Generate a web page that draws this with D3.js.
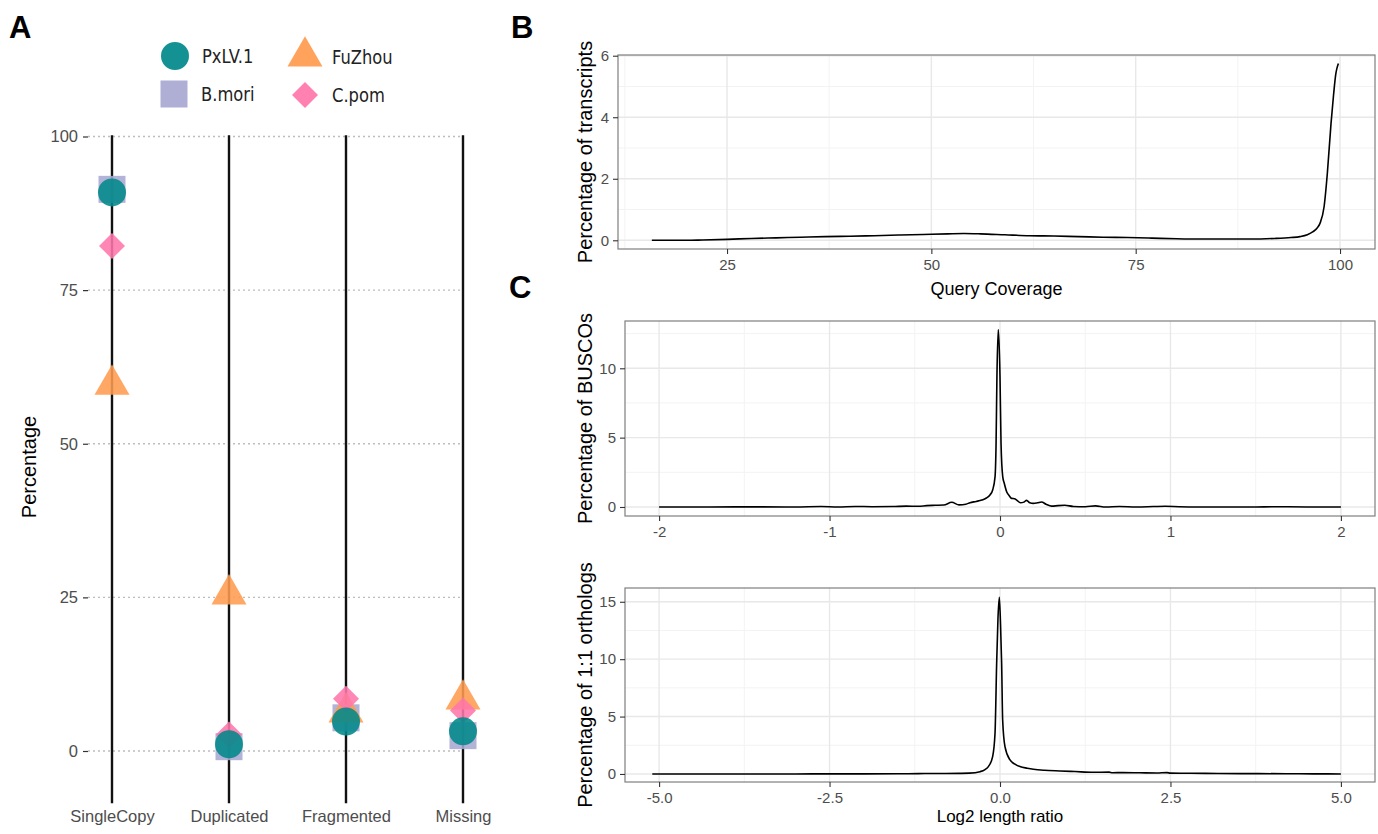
<!DOCTYPE html>
<html><head><meta charset="utf-8">
<script src="https://cdn.jsdelivr.net/npm/d3@7"></script>
<style>html,body{margin:0;padding:0;background:#fff;} svg{display:block;}</style>
</head><body>
<svg id="chart" width="1378" height="834"></svg>
<script>
// ---------- Panel A data ----------
const categories = ["SingleCopy", "Duplicated", "Fragmented", "Missing"];
const species = ["PxLV.1", "B.mori", "FuZhou", "C.pom"];
const pxlvValues   = [90.9, 1.1, 4.8, 3.2];
const bmoriValues  = [91.4, 0.7, 5.4, 2.5];
const fuzhouValues = [59.6, 25.5, 6.3, 8.4];
const cpomValues   = [82.2, 2.7, 8.5, 6.6];
const aTicks = [0, 25, 50, 75, 100];
const aRange = [-8.5, 100.2];

// ---------- Panel B data (Query Coverage density) ----------
const bTicksX = [25, 50, 75, 100];
const bTicksY = [0, 2, 4, 6];
const coverageX = [15.8, 18, 20, 22, 25, 28, 31, 34, 37, 40, 43, 46, 49, 52, 54, 56, 59, 62, 65, 68, 71, 74, 77, 80, 83, 86, 89, 92, 94, 95.1, 96, 96.7, 97.2, 97.55, 98.05, 98.45, 98.9, 99.2, 99.5, 99.65, 99.8];
const coverageY = [0.0, 0.0, 0.0, 0.01, 0.03, 0.06, 0.08, 0.1, 0.12, 0.13, 0.15, 0.17, 0.19, 0.21, 0.22, 0.21, 0.18, 0.15, 0.14, 0.12, 0.1, 0.09, 0.07, 0.05, 0.04, 0.04, 0.04, 0.06, 0.09, 0.12, 0.18, 0.28, 0.4, 0.55, 1.09, 2.18, 3.8, 4.7, 5.43, 5.62, 5.75];

// ---------- Panel C (top) data: BUSCO log2 length ratio ----------
const c1TicksX = [-2, -1, 0, 1, 2];
const c1TicksY = [0, 5, 10];
const buscoX = [-2.0, -1.7, -1.4, -1.2, -1.05, -0.95, -0.85, -0.75, -0.63, -0.55, -0.48, -0.43, -0.38, -0.33, -0.283, -0.24, -0.2, -0.176, -0.14, -0.107, -0.08, -0.059, -0.043, -0.029, -0.023, -0.018, -0.01, 0.0, 0.006, 0.016, 0.025, 0.039, 0.055, 0.068, 0.085, 0.098, 0.12, 0.14, 0.156, 0.175, 0.195, 0.22, 0.244, 0.27, 0.303, 0.34, 0.38, 0.43, 0.5, 0.56, 0.62, 0.7, 0.8, 0.9, 0.97, 1.05, 1.15, 1.3, 1.5, 1.6, 1.8, 2.0];
const buscoY = [0.0, 0.0, 0.01, 0.0, 0.03, 0.0, 0.04, 0.02, 0.03, 0.06, 0.05, 0.1, 0.12, 0.14, 0.34, 0.15, 0.2, 0.31, 0.4, 0.5, 0.65, 0.87, 1.23, 2.19, 4.6, 9.4, 12.8, 9.4, 4.6, 2.19, 1.71, 1.1, 0.8, 0.62, 0.6, 0.5, 0.3, 0.35, 0.48, 0.3, 0.26, 0.3, 0.36, 0.2, 0.06, 0.1, 0.12, 0.04, 0.02, 0.08, 0.0, 0.03, 0.0, 0.03, 0.05, 0.02, 0.0, 0.0, 0.0, 0.02, 0.0, 0.0];

// ---------- Panel C (bottom) data: 1:1 orthologs log2 length ratio ----------
const c2TicksX = [-5, -2.5, 0, 2.5, 5];
const c2TicksY = [0, 5, 10, 15];
const orthoX = [-5.1, -4.5, -4.0, -3.5, -3.0, -2.5, -2.0, -1.5, -1.2, -1.0, -0.8, -0.6, -0.45, -0.293, -0.22, -0.171, -0.108, -0.073, -0.049, -0.03, -0.01, 0.008, 0.024, 0.039, 0.073, 0.147, 0.22, 0.293, 0.4, 0.49, 0.65, 0.88, 1.1, 1.37, 1.6, 1.65, 1.8, 2.05, 2.3, 2.45, 2.5, 2.8, 3.2, 3.75, 4.2, 4.6, 5.0];
const orthoY = [0.0, 0.0, 0.0, 0.0, 0.0, 0.01, 0.01, 0.02, 0.03, 0.04, 0.04, 0.05, 0.07, 0.2, 0.38, 0.64, 1.51, 3.54, 9.64, 13.5, 15.4, 13.0, 9.64, 4.7, 2.38, 1.22, 0.85, 0.64, 0.5, 0.41, 0.32, 0.26, 0.21, 0.15, 0.16, 0.11, 0.12, 0.1, 0.08, 0.12, 0.07, 0.06, 0.04, 0.03, 0.02, 0.01, 0.0];

// ---------- styles ----------
const FONT = "'Liberation Sans', Arial, Helvetica, sans-serif";
const LEGEND_FONT = "'DejaVu Sans', Verdana, sans-serif";
const colors = {"PxLV.1": "#00898A", "B.mori": "#A8A8D2", "FuZhou": "#FF9B4E", "C.pom": "#FF76AB"};
const symbolSpec = {
  "PxLV.1": {type: d3.symbolCircle, size: 616, rot: 0},
  "B.mori": {type: d3.symbolSquare, size: 729, rot: 0},
  "FuZhou": {type: d3.symbolTriangle, size: 530, rot: 0},
  "C.pom":  {type: d3.symbolSquare, size: 338, rot: 45}
};
const valuesBySpecies = {"PxLV.1": pxlvValues, "B.mori": bmoriValues, "FuZhou": fuzhouValues, "C.pom": cpomValues};

const svg = d3.select("#chart");

// ---------- Panel letters ----------
svg.append("text").attr("x", 9).attr("y", 38).text("A")
  .attr("font-family", FONT).attr("font-weight", "bold").attr("font-size", 31);
svg.append("text").attr("x", 511).attr("y", 38).text("B")
  .attr("font-family", FONT).attr("font-weight", "bold").attr("font-size", 31);
svg.append("text").attr("x", 509).attr("y", 298).text("C")
  .attr("font-family", FONT).attr("font-weight", "bold").attr("font-size", 31);

// ---------- Panel A ----------
const yA = d3.scaleLinear().domain([0, 100]).range([751, 136.5]);
const xA = d3.scalePoint().domain(categories).range([112, 463]);
const gA = svg.append("g");

gA.selectAll("line.gridA").data(aTicks).join("line").attr("class", "gridA")
  .attr("x1", 88).attr("x2", 462)
  .attr("y1", d => yA(d)).attr("y2", d => yA(d))
  .attr("stroke", "#bdbdbd").attr("stroke-width", 1.3).attr("stroke-dasharray", "2,3");

gA.append("g").attr("transform", "translate(88,0)")
  .call(d3.axisLeft(yA).tickValues(aTicks).tickSize(5).tickPadding(5))
  .call(g => {
    g.select(".domain").remove();
    g.selectAll("line").attr("stroke", "#333").attr("stroke-width", 1.2);
    g.selectAll("text").attr("font-family", FONT).attr("font-size", 16.5).attr("fill", "#4d4d4d");
  });

gA.selectAll("line.stem").data(categories).join("line").attr("class", "stem")
  .attr("x1", d => xA(d)).attr("x2", d => xA(d))
  .attr("y1", yA(aRange[1])).attr("y2", yA(aRange[0]))
  .attr("stroke", "#111").attr("stroke-width", 2.4);

gA.append("g").attr("transform", "translate(0,803)")
  .call(d3.axisBottom(xA).tickSize(0).tickPadding(7.5))
  .call(g => {
    g.select(".domain").remove();
    g.selectAll("text").attr("font-family", FONT).attr("font-size", 16.5).attr("fill", "#4d4d4d");
  });

gA.append("text").attr("transform", "translate(36,467) rotate(-90)")
  .attr("text-anchor", "middle").attr("font-family", FONT).attr("font-size", 20)
  .attr("fill", "#000").text("Percentage");

const drawOrder = ["B.mori", "FuZhou", "C.pom", "PxLV.1"];
const pts = [];
drawOrder.forEach(sp => categories.forEach((c, i) => pts.push({sp, cat: c, val: valuesBySpecies[sp][i]})));
gA.selectAll("path.pt").data(pts).join("path").attr("class", "pt")
  .attr("d", d => d3.symbol().type(symbolSpec[d.sp].type).size(symbolSpec[d.sp].size)())
  .attr("transform", d => `translate(${xA(d.cat)},${yA(d.val)}) rotate(${symbolSpec[d.sp].rot})`)
  .attr("fill", d => colors[d.sp]).attr("fill-opacity", 0.88);

// legend
const legendPos = {
  "PxLV.1": [175, 56], "B.mori": [174, 94],
  "FuZhou": [305, 56.5], "C.pom": [305, 95]
};
const gL = svg.append("g");
species.forEach(sp => {
  const [lx, ly] = legendPos[sp];
  gL.append("path")
    .attr("d", d3.symbol().type(symbolSpec[sp].type).size(symbolSpec[sp].size)())
    .attr("transform", `translate(${lx},${ly}) rotate(${symbolSpec[sp].rot})`)
    .attr("fill", colors[sp]).attr("fill-opacity", 0.92);
  gL.append("text")
    .attr("transform", `translate(${lx + 27},${ly + 7}) scale(0.86,1)`)
    .attr("font-family", LEGEND_FONT).attr("font-size", 19).attr("fill", "#222").text(sp);
});

// ---------- Density panels ----------
function minorTicks(major, domain) {
  const step = major[1] - major[0];
  const out = [];
  for (let v = major[0] - step / 2; v <= domain[1]; v += step) {
    if (v >= domain[0] && v <= domain[1]) out.push(v);
  }
  return out;
}

function densityPanel(o) {
  const x = d3.scaleLinear().domain(o.xDomain).range([o.left, o.right]);
  const y = d3.scaleLinear().domain(o.yDomain).range([o.bottom, o.top]);
  const g = svg.append("g");
  g.append("rect").attr("x", o.left).attr("y", o.top)
    .attr("width", o.right - o.left).attr("height", o.bottom - o.top).attr("fill", "#fff");
  g.selectAll("line.mx").data(minorTicks(o.xTicks, o.xDomain)).join("line")
    .attr("x1", d => x(d)).attr("x2", d => x(d)).attr("y1", o.top).attr("y2", o.bottom)
    .attr("stroke", "#f3f3f3").attr("stroke-width", 1);
  g.selectAll("line.my").data(minorTicks(o.yTicks, o.yDomain)).join("line")
    .attr("y1", d => y(d)).attr("y2", d => y(d)).attr("x1", o.left).attr("x2", o.right)
    .attr("stroke", "#f3f3f3").attr("stroke-width", 1);
  g.selectAll("line.gx").data(o.xTicks).join("line")
    .attr("x1", d => x(d)).attr("x2", d => x(d)).attr("y1", o.top).attr("y2", o.bottom)
    .attr("stroke", "#e8e8e8").attr("stroke-width", 1.4);
  g.selectAll("line.gy").data(o.yTicks).join("line")
    .attr("y1", d => y(d)).attr("y2", d => y(d)).attr("x1", o.left).attr("x2", o.right)
    .attr("stroke", "#e8e8e8").attr("stroke-width", 1.4);
  const data = o.xs.map((v, i) => ({x: v, y: o.ys[i]}));
  g.append("path").datum(data)
    .attr("d", d3.line().x(d => x(d.x)).y(d => y(d.y)).curve(d3.curveMonotoneX))
    .attr("fill", "none").attr("stroke", "#000").attr("stroke-width", 1.6);
  g.append("rect").attr("x", o.left).attr("y", o.top)
    .attr("width", o.right - o.left).attr("height", o.bottom - o.top)
    .attr("fill", "none").attr("stroke", "#7f7f7f").attr("stroke-width", 1.2);
  const styleAxis = a => {
    a.select(".domain").remove();
    a.selectAll("line").attr("stroke", "#333").attr("stroke-width", 1.1);
    a.selectAll("text").attr("font-family", FONT).attr("font-size", 15).attr("fill", "#4d4d4d");
  };
  g.append("g").attr("transform", `translate(0,${o.bottom})`)
    .call(d3.axisBottom(x).tickValues(o.xTicks).tickFormat(o.xFmt).tickSize(5).tickPadding(5))
    .call(styleAxis);
  g.append("g").attr("transform", `translate(${o.left},0)`)
    .call(d3.axisLeft(y).tickValues(o.yTicks).tickFormat(o.yFmt).tickSize(5).tickPadding(4))
    .call(styleAxis);
  g.append("text").attr("transform", `translate(592,${(o.top + o.bottom) / 2}) rotate(-90)`)
    .attr("text-anchor", "middle").attr("font-family", FONT).attr("font-size", 20)
    .attr("fill", "#000").text(o.yTitle);
  if (o.xTitle) {
    g.append("text").attr("x", (o.left + o.right) / 2).attr("y", o.xTitleY)
      .attr("text-anchor", "middle").attr("font-family", FONT).attr("font-size", o.xTitleSize)
      .attr("fill", "#000").text(o.xTitle);
  }
}

const intFmt = d => String(d);
const oneDec = d => d.toFixed(1);

densityPanel({
  left: 618, right: 1375, top: 55, bottom: 249,
  xDomain: [11.66, 104.28], yDomain: [-0.283, 6.023],
  xTicks: bTicksX, yTicks: bTicksY, xFmt: intFmt, yFmt: intFmt,
  xs: coverageX, ys: coverageY,
  yTitle: "Percentage of transcripts", xTitle: "Query Coverage", xTitleY: 295, xTitleSize: 18
});

densityPanel({
  left: 625, right: 1375, top: 321, bottom: 516,
  xDomain: [-2.2, 2.2], yDomain: [-0.65, 13.41],
  xTicks: c1TicksX, yTicks: c1TicksY, xFmt: intFmt, yFmt: intFmt,
  xs: buscoX, ys: buscoY,
  yTitle: "Percentage of BUSCOs"
});

densityPanel({
  left: 625, right: 1375, top: 588, bottom: 782,
  xDomain: [-5.5, 5.5], yDomain: [-0.7, 16.2],
  xTicks: c2TicksX, yTicks: c2TicksY, xFmt: oneDec, yFmt: intFmt,
  xs: orthoX, ys: orthoY,
  yTitle: "Percentage of 1:1 orthologs", xTitle: "Log2 length ratio", xTitleY: 822, xTitleSize: 17
});
</script>
</body></html>
